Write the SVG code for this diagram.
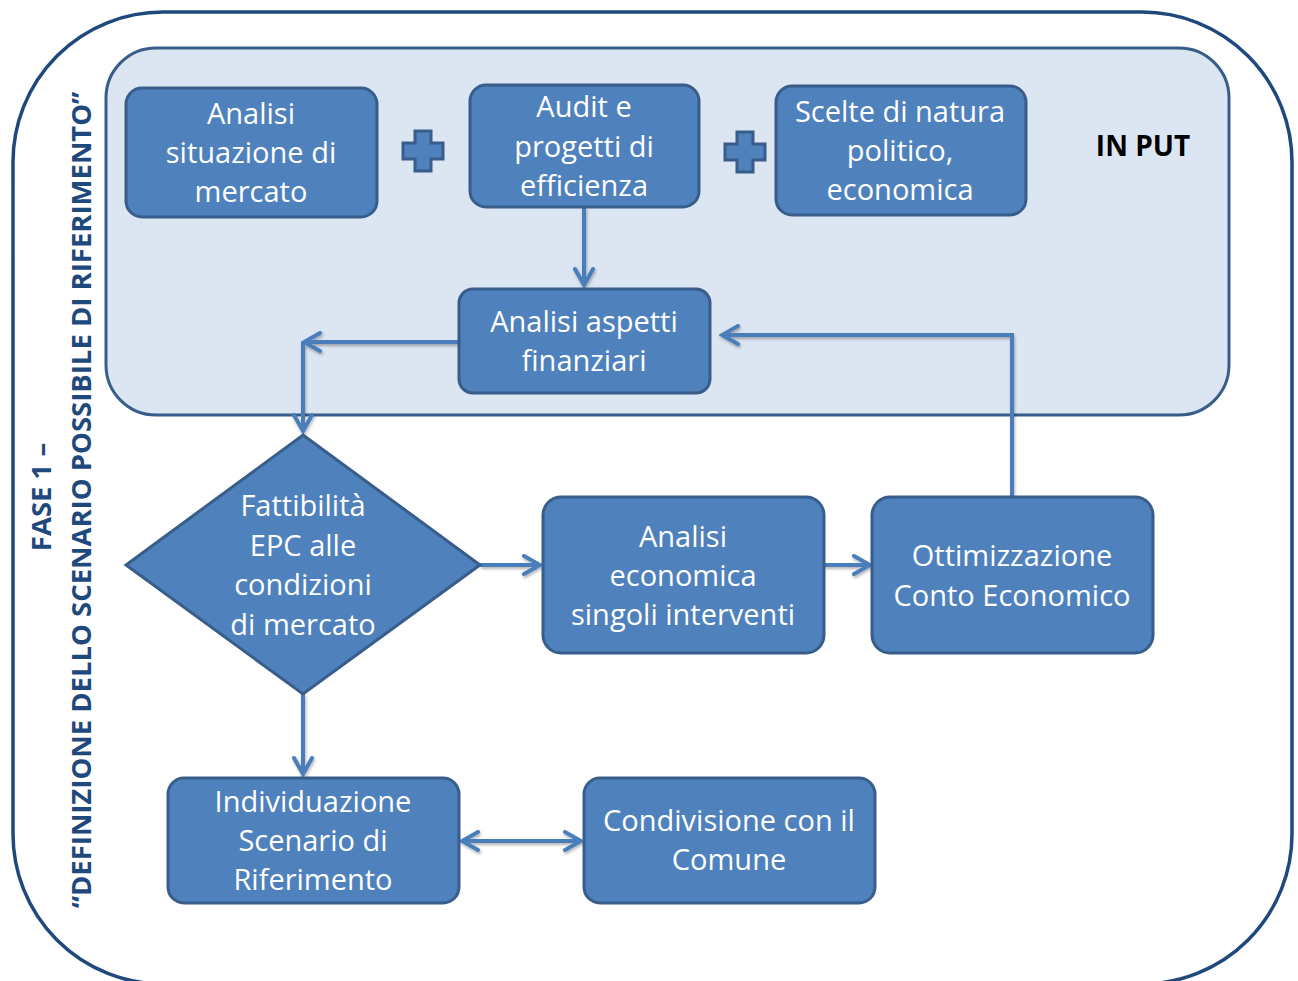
<svg xmlns="http://www.w3.org/2000/svg" width="1298" height="981" viewBox="0 0 1298 981">
<defs>
<style>
.node{fill:#4F81BD;stroke:#385D8A;stroke-width:3}
.t{font-family:"Open Sans","Liberation Sans",sans-serif;font-size:29px;fill:#FFFFFF;text-anchor:middle}
.c{fill:none;stroke:#4A7EBB;stroke-width:4;stroke-linejoin:miter}
.v{font-family:"Open Sans","Liberation Sans",sans-serif;font-weight:bold;font-size:27.5px;fill:#1F497D;text-anchor:middle}
</style>
<marker id="ah" viewBox="0 0 22 22" refX="19" refY="11" markerWidth="22" markerHeight="22" markerUnits="userSpaceOnUse" orient="auto-start-reverse">
<path d="M3,2 L19,11 L3,20" fill="none" stroke="#4A7EBB" stroke-width="4" stroke-linecap="round" stroke-linejoin="miter"/>
</marker>
<filter id="sh" x="-10%" y="-10%" width="120%" height="120%">
<feDropShadow dx="1" dy="2" stdDeviation="1.5" flood-color="#000" flood-opacity="0.3"/>
</filter>
</defs>
<rect width="1298" height="981" fill="#FFFFFF"/>
<g id="frame">
<rect x="13" y="12" width="1279" height="972" rx="150" ry="150" fill="#FFFFFF" stroke="#1F497D" stroke-width="3.5"/>
</g>
<g id="input-panel">
<rect x="106" y="48" width="1123" height="367" rx="50" ry="50" fill="#DCE6F2" stroke="#385D8A" stroke-width="3"/>
<text x="1143" y="156" font-family="Open Sans, Liberation Sans, sans-serif" font-weight="bold" font-size="28" fill="#000000" text-anchor="middle">IN PUT</text>
</g>
<g id="title">
<text class="v" transform="translate(51,497) rotate(-90)">FASE 1 –</text>
<text class="v" transform="translate(91,500) rotate(-90)">“DEFINIZIONE DELLO SCENARIO POSSIBILE DI RIFERIMENTO”</text>
</g>
<g id="connectors" filter="url(#sh)">
<path class="c" d="M584,207 L584,285" marker-end="url(#ah)"/>
<path class="c" d="M459,342 L304,342" marker-end="url(#ah)"/>
<path class="c" d="M303,342 L303,431" marker-end="url(#ah)"/>
<path class="c" d="M480,565 L540,565" marker-end="url(#ah)"/>
<path class="c" d="M824,565 L870,565" marker-end="url(#ah)"/>
<path class="c" d="M1012,497 L1012,335 L722,335" marker-end="url(#ah)"/>
<path class="c" d="M303,694 L303,774" marker-end="url(#ah)"/>
<path class="c" d="M462,841 L581,841" marker-start="url(#ah)" marker-end="url(#ah)"/>
</g>
<g id="plus1">
<path class="node" d="M415,131 H431 V143 H443 V159 H431 V171 H415 V159 H403 V143 H415 Z"/>
</g>
<g id="plus2">
<path class="node" d="M737,132 H753 V144 H765 V160 H753 V172 H737 V160 H725 V144 H737 Z"/>
</g>
<g id="n-mercato">
<rect class="node" x="126" y="88" width="251" height="129" rx="16"/>
<text class="t" x="251" y="124">Analisi</text>
<text class="t" x="251" y="163">situazione di</text>
<text class="t" x="251" y="202">mercato</text>
</g>
<g id="n-audit">
<rect class="node" x="470" y="85" width="229" height="122" rx="16"/>
<text class="t" x="584" y="117">Audit e</text>
<text class="t" x="584" y="157">progetti di</text>
<text class="t" x="584" y="196">efficienza</text>
</g>
<g id="n-scelte">
<rect class="node" x="776" y="86" width="250" height="129" rx="16"/>
<text class="t" x="900" y="122">Scelte di natura</text>
<text class="t" x="900" y="161">politico,</text>
<text class="t" x="900" y="200">economica</text>
</g>
<g id="n-finanziari">
<rect class="node" x="459" y="289" width="251" height="104" rx="14"/>
<text class="t" x="584" y="332">Analisi aspetti</text>
<text class="t" x="584" y="371">finanziari</text>
</g>
<g id="n-fattibilita">
<path class="node" d="M303,435 L480,565 L303,694 L126,565 Z"/>
<text class="t" x="303" y="516">Fattibilità</text>
<text class="t" x="303" y="556">EPC alle</text>
<text class="t" x="303" y="595">condizioni</text>
<text class="t" x="303" y="635">di mercato</text>
</g>
<g id="n-economica">
<rect class="node" x="543" y="497" width="281" height="156" rx="18"/>
<text class="t" x="683" y="547">Analisi</text>
<text class="t" x="683" y="586">economica</text>
<text class="t" x="683" y="625">singoli interventi</text>
</g>
<g id="n-ottimizzazione">
<rect class="node" x="872" y="497" width="281" height="156" rx="18"/>
<text class="t" x="1012" y="566">Ottimizzazione</text>
<text class="t" x="1012" y="606">Conto Economico</text>
</g>
<g id="n-individuazione">
<rect class="node" x="168" y="778" width="291" height="125" rx="16"/>
<text class="t" x="313" y="812">Individuazione</text>
<text class="t" x="313" y="851">Scenario di</text>
<text class="t" x="313" y="890">Riferimento</text>
</g>
<g id="n-condivisione">
<rect class="node" x="584" y="778" width="291" height="125" rx="16"/>
<text class="t" x="729" y="831">Condivisione con il</text>
<text class="t" x="729" y="870">Comune</text>
</g>
</svg>
